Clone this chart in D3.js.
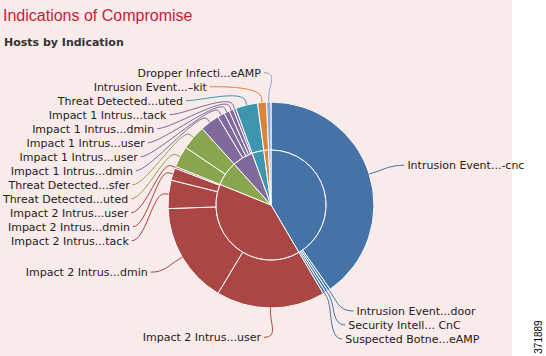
<!DOCTYPE html>
<html><head><meta charset="utf-8">
<script src="https://cdn.jsdelivr.net/npm/d3@7"></script>
<style>html,body{margin:0;padding:0;background:#fff;} svg{display:block}</style>
</head><body>
<svg id="chart" width="546" height="356"></svg>
<script>
// ---- data ----
const titleText = "Indications of Compromise";
const subtitleText = "Hosts by Indication";
const figureId = "371889";

const groupNames = ["CnC Connected", "Impact 2 Intrusion Event", "Threat Detected", "Impact 1 Intrusion Event",
                    "Threat Detected Executed", "Exploit Kit", "Dropper Infection"];
const groupColors = ["#4572A7", "#AA4643", "#89A54E", "#80699B", "#3D96AE", "#DB843D", "#92A8CD"];

const sliceLabels = [
  "Intrusion Event...-cnc", "Intrusion Event...door", "Security Intell... CnC", "Suspected Botne...eAMP",
  "Impact 2 Intrus...user", "Impact 2 Intrus...dmin", "Impact 2 Intrus...tack", "Impact 2 Intrus...dmin", "Impact 2 Intrus...user",
  "Threat Detected...uted", "Threat Detected...sfer",
  "Impact 1 Intrus...dmin", "Impact 1 Intrus...user", "Impact 1 Intrus...user", "Impact 1 Intrus...dmin", "Impact 1 Intrus...tack",
  "Threat Detected...uted", "Intrusion Event...\u2013kit", "Dropper Infecti...eAMP"
];
const sliceValues = [145, 1.5, 1.5, 1.5, 61.5, 57, 16, 7, 1, 12, 14, 11, 4, 3, 2.5, 1.5, 12.5, 5, 2.5];
const sliceGroups = [0, 0, 0, 0, 1, 1, 1, 1, 1, 2, 2, 3, 3, 3, 3, 3, 4, 5, 6];

// ---- layout ----
const W = 546, H = 356;
const cx = 271, cy = 205, rOuter = 103, rInner = 55;
const rx = rOuter + 40, ry = rOuter + 29.3;
const lineGap = 14, minY = 66, maxY = 339, minDx = 10;

const svg = d3.select("#chart");
svg.append("rect").attr("width", W).attr("height", H).attr("fill", "#ffffff");
svg.append("rect").attr("width", 512).attr("height", H).attr("fill", "#f9ebe9");

svg.append("text").attr("x", 3).attr("y", 21)
  .attr("font-family", "Liberation Sans, Arial, sans-serif").attr("font-size", 16)
  .attr("fill", "#c41e3a").text(titleText);
svg.append("text").attr("x", 4).attr("y", 46)
  .attr("font-family", "DejaVu Sans, Verdana, sans-serif").attr("font-size", 11).attr("font-weight", "bold")
  .attr("fill", "#333333").text(subtitleText);

svg.append("text").attr("transform", `translate(542,337) rotate(-90)`)
  .attr("text-anchor", "middle").attr("font-family", "Liberation Sans, Arial, sans-serif")
  .attr("font-size", 10).attr("fill", "#000").text(figureId);

const slices = sliceLabels.map((l, i) => ({label: l, value: sliceValues[i], group: sliceGroups[i]}));
const groups = groupNames.map((g, gi) => ({name: g, group: gi,
  value: d3.sum(slices.filter(s => s.group === gi), s => s.value)}));

const pie = d3.pie().sort(null).value(d => d.value);
const outerArcs = pie(slices);
const innerArcs = pie(groups);

const g = svg.append("g").attr("transform", `translate(${cx},${cy})`);
const arcInner = d3.arc().innerRadius(0).outerRadius(rInner);
const arcOuter = d3.arc().innerRadius(rInner).outerRadius(rOuter);

g.selectAll("path.outer").data(outerArcs).join("path").attr("class", "outer")
  .attr("d", arcOuter).attr("fill", d => groupColors[d.data.group])
  .attr("stroke", "#ffffff").attr("stroke-width", 1);
g.selectAll("path.inner").data(innerArcs).join("path").attr("class", "inner")
  .attr("d", arcInner).attr("fill", d => groupColors[d.data.group])
  .attr("stroke", "#ffffff").attr("stroke-width", 1);

// ---- labels ----
const labels = outerArcs.map(a => {
  const mid = (a.startAngle + a.endAngle) / 2;
  return {arc: a, mid, left: mid > Math.PI, natY: cy - ry * Math.cos(mid)};
});
function stack(list) {
  list.sort((a, b) => a.natY - b.natY);
  let prev = -Infinity;
  list.forEach(l => { l.y = Math.max(l.natY, prev + lineGap, minY); prev = l.y; });
  let next = Infinity;
  for (let i = list.length - 1; i >= 0; i--) {
    list[i].y = Math.min(list[i].y, next - lineGap, maxY); next = list[i].y;
  }
}
const leftL = labels.filter(l => l.left), rightL = labels.filter(l => !l.left);
stack(leftL); stack(rightL);

labels.forEach(l => {
  const yx = Math.abs(l.natY - cy) < Math.abs(l.y - cy) ? l.natY : l.y;
  const t = Math.max(0, 1 - Math.pow((yx - cy) / ry, 2));
  const dx = Math.max(minDx, rx * Math.sqrt(t));
  l.x = l.left ? cx - dx : cx + dx;
});

const lg = svg.append("g");
labels.forEach(l => {
  const s = Math.sin(l.mid), c = -Math.cos(l.mid);
  const sign = l.left ? 1 : -1;
  const sx = l.x + sign * 3, sy = l.y;
  const ex = cx + rOuter * s, ey = cy + rOuter * c;
  const px = cx + (rOuter + 4) * s, py = cy + (rOuter + 4) * c;
  const c2x = cx + (rOuter + 16) * s, c2y = cy + (rOuter + 16) * c;
  const c1x = sx + sign * 14, c1y = sy;
  const path = d3.path();
  path.moveTo(sx, sy);
  path.bezierCurveTo(c1x, c1y, c2x, c2y, px, py);
  path.lineTo(ex, ey);
  lg.append("path").attr("d", path.toString()).attr("fill", "none")
    .attr("stroke", groupColors[l.arc.data.group]).attr("stroke-width", 1);
  lg.append("text").attr("x", l.x).attr("y", l.y).attr("dy", "0.35em")
    .attr("text-anchor", l.left ? "end" : "start")
    .attr("font-family", "DejaVu Sans, Verdana, sans-serif").attr("font-size", 11)
    .attr("fill", "#222222").text(l.arc.data.label);
});
</script>
</body></html>
